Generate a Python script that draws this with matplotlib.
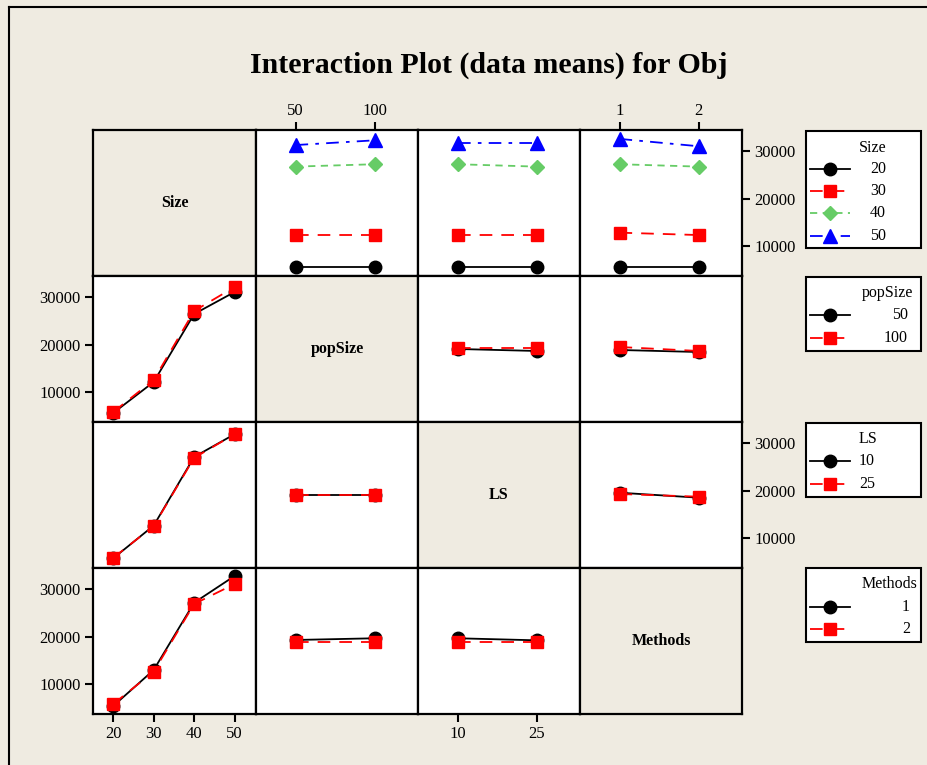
import matplotlib
matplotlib.use("Agg")
import matplotlib.pyplot as plt
from matplotlib.patches import Rectangle
from matplotlib.lines import Line2D

plt.rcParams['font.family'] = ['Liberation Serif', 'DejaVu Serif']

# ---------------- data ----------------
factors = ['Size', 'popSize', 'LS', 'Methods']
size_levels = [20, 30, 40, 50]
popsize_levels = [50, 100]
ls_levels = [10, 25]
methods_levels = [1, 2]
levels = [size_levels, popsize_levels, ls_levels, methods_levels]

# means[trace factor][x factor] -> rows = trace levels, cols = x levels
size_vs_popsize = [[5500, 5500], [12300, 12300], [26750, 27250], [31300, 32300]]
size_vs_ls = [[5500, 5500], [12300, 12300], [27250, 26750], [31800, 31800]]
size_vs_methods = [[5500, 5500], [12800, 12300], [27250, 26750], [32600, 31050]]

popsize_vs_size = [[5550, 12100, 26450, 31100], [5760, 12520, 27090, 32160]]
popsize_vs_ls = [[19070, 18650], [19280, 19280]]
popsize_vs_methods = [[18860, 18430], [19490, 18650]]

ls_vs_size = [[5700, 12600, 27100, 31900], [5800, 12500, 26900, 31900]]
ls_vs_popsize = [[19150, 19150], [19000, 19000]]
ls_vs_methods = [[19550, 18500], [19280, 18710]]

methods_vs_size = [[5340, 12940, 27150, 32790], [5760, 12580, 26880, 31100]]
methods_vs_popsize = [[19280, 19640], [18860, 18860]]
methods_vs_ls = [[19640, 19210], [18860, 18860]]

means = {
    (0, 1): size_vs_popsize, (0, 2): size_vs_ls, (0, 3): size_vs_methods,
    (1, 0): popsize_vs_size, (1, 2): popsize_vs_ls, (1, 3): popsize_vs_methods,
    (2, 0): ls_vs_size, (2, 1): ls_vs_popsize, (2, 3): ls_vs_methods,
    (3, 0): methods_vs_size, (3, 1): methods_vs_popsize, (3, 2): methods_vs_ls,
}
y_ticks = [10000, 20000, 30000]

# ---------------- styles ----------------
BG = '#EFEBE1'
styles = [
    dict(color='black', marker='o', ms=9, ls='-'),
    dict(color='#FF0000', marker='s', ms=8, ls=(0, (7, 5))),
    dict(color='#66CC66', marker='D', ms=7.5, ls=(0, (4, 3))),
    dict(color='#0000FF', marker='^', ms=9.5, ls=(0, (7, 4, 2, 4))),
]

W, H = 928, 765
fig = plt.figure(figsize=(W / 100, H / 100), dpi=100, facecolor=BG)

# figure frame lines (left & top)
fig.add_artist(Line2D([9 / W, 9 / W], [0, 1 - 7 / H], transform=fig.transFigure, color='black', lw=1.5))
fig.add_artist(Line2D([9 / W, 1], [1 - 7 / H, 1 - 7 / H], transform=fig.transFigure, color='black', lw=1.5))

fig.text(489 / W, 1 - 65 / H, 'Interaction Plot (data means) for Obj', ha='center', va='center',
         fontsize=21.5, fontweight='bold')

xe = [93, 256, 418, 580, 742]
ye = [130, 276, 422, 568, 714]
YLIM = (3650, 34480)
TICK_FS = 12

for r in range(4):
    for c in range(4):
        x0, x1 = xe[c], xe[c + 1]
        y0, y1 = ye[r], ye[r + 1]
        ax = fig.add_axes([x0 / W, 1 - y1 / H, (x1 - x0) / W, (y1 - y0) / H])
        for s in ax.spines.values():
            s.set_linewidth(1.6)
        ax.set_ylim(*YLIM)
        nlev = len(levels[c])
        ax.set_xlim(-0.5, nlev - 0.5 + (0.05 if nlev == 2 else 0.03))
        ax.tick_params(axis='both', which='both', length=0, labelsize=TICK_FS,
                       labelleft=False, labelbottom=False)
        ax.set_xticks([])
        ax.set_yticks([])
        if r == c:
            ax.set_facecolor(BG)
            ax.text(0.5, 0.5, factors[r], transform=ax.transAxes, ha='center', va='center',
                    fontsize=11.5, fontweight='bold')
            continue
        ax.set_facecolor('white')
        data = means[(r, c)]
        xs = list(range(nlev))
        for i, vals in enumerate(data):
            st = styles[i]
            ax.plot(xs, vals, color=st['color'], marker=st['marker'], markersize=st['ms'],
                    linestyle=st['ls'], lw=1.3, zorder=3 + i, clip_on=False)
        # x-axis ticks
        if r == 0 and c in (1, 3):
            ax.set_xticks(xs)
            ax.set_xticklabels([str(v) for v in levels[c]])
            ax.tick_params(axis='x', top=True, bottom=False, labeltop=True, labelbottom=False,
                           length=6, width=1.5, direction='out', pad=2)
        if r == 3 and c in (0, 2):
            ax.set_xticks(xs)
            ax.set_xticklabels([str(v) for v in levels[c]])
            ax.tick_params(axis='x', bottom=True, labelbottom=True,
                           length=6, width=1.5, direction='out', pad=3)
        # y-axis ticks
        if c == 0 and r in (1, 3):
            ax.set_yticks(y_ticks)
            ax.set_yticklabels([str(v) for v in y_ticks])
            ax.tick_params(axis='y', left=True, labelleft=True, length=6, width=1.5,
                           direction='out', pad=3)
        if c == 3 and r in (0, 2):
            ax.set_yticks(y_ticks)
            ax.set_yticklabels([str(v) for v in y_ticks])
            ax.yaxis.tick_right()
            ax.tick_params(axis='y', right=True, labelright=True, left=False, labelleft=False,
                           length=6, width=1.5, direction='out', pad=3)

# ---------------- legends (drawn manually) ----------------
legend_specs = [
    # (box x0, y0, x1, y1, title, title_x, title_ha, label_x, label_ha, entry ys, title y)
    (806, 131, 921, 248, 'Size', 873, 'center', 878, 'center', [169, 191, 213, 236], 148),
    (806, 277, 921, 351, 'popSize', 913, 'right', 908, 'right', [315, 338], 293),
    (806, 423, 921, 497, 'LS', 838, 'left', 838, 'left', [461, 484], 439),
    (806, 568, 921, 642, 'Methods', 917, 'right', 910, 'right', [607, 629], 584),
]
lax = fig.add_axes([0, 0, 1, 1], facecolor='none')
lax.set_xlim(0, W)
lax.set_ylim(H, 0)
lax.axis('off')
for k, (bx0, by0, bx1, by1, title, tx, tha, lx, lha, eys, ty) in enumerate(legend_specs):
    lax.add_patch(Rectangle((bx0, by0), bx1 - bx0, by1 - by0, facecolor='white',
                            edgecolor='black', lw=1.5))
    if k == 2:
        tx = lx = 859
    lax.text(tx, ty, title, ha=tha, va='center', fontsize=11.5)
    for i, ey in enumerate(eys):
        st = styles[i]
        lax.add_line(Line2D([810, 850], [ey, ey], color=st['color'], linestyle=st['ls'], lw=1.3))
        lax.add_line(Line2D([830], [ey], color=st['color'], marker=st['marker'],
                            markersize=st['ms'], linestyle='none'))
        lax.text(lx, ey, str(levels[k][i]), ha=lha, va='center', fontsize=11.5)

fig.savefig('out.png', dpi=100, facecolor=BG)
